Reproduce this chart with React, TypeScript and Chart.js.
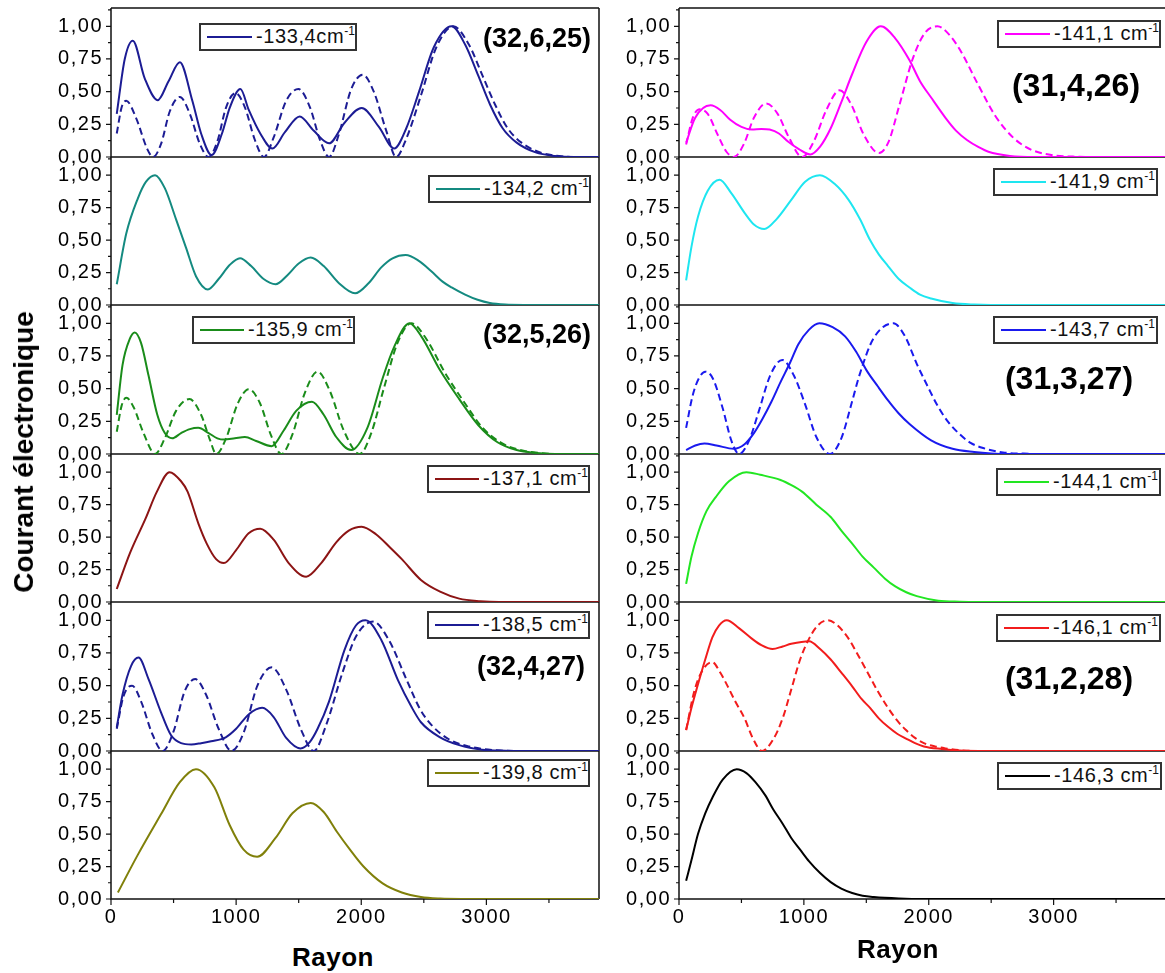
import React, { useEffect, useRef } from "react";
import { Chart, registerables } from "chart.js";
Chart.register(...registerables);

type Pt = [number, number];

// ---- axes ----
const xTicks = [0, 1000, 2000, 3000];
const xMinorTicks = [500, 1500, 2500, 3500];
const yTicks = [0, 0.25, 0.5, 0.75, 1];
const yMinorTicks = [0.125, 0.375, 0.625, 0.875, 1.125];
const X_MAX = 3900;
const Y_MAX = 1.14;

// ---- data (Rayon, courant normalisé) ----
const s1334: Pt[] = [[46,0.33],[110,0.75],[174,0.89],[270,0.6],[373,0.435],[460,0.58],[550,0.725],[650,0.43],[720,0.18],[804,0.015],[887,0.18],[950,0.38],[1034,0.52],[1101,0.36],[1193,0.18],[1290,0.065],[1390,0.19],[1508,0.31],[1621,0.2],[1743,0.105],[1865,0.26],[2003,0.375],[2141,0.23],[2263,0.065],[2360,0.22],[2462,0.5],[2580,0.84],[2722,1.0],[2830,0.86],[2936,0.62],[3030,0.4],[3130,0.22],[3242,0.11],[3394,0.035],[3547,0.008],[3700,0],[3900,0]];
const d1334: Pt[] = [[46,0.18],[85,0.38],[122,0.43],[200,0.3],[290,0.06],[336,0],[400,0.1],[470,0.35],[550,0.46],[630,0.33],[710,0.1],[780,0],[850,0.12],[920,0.38],[994,0.49],[1070,0.38],[1150,0.13],[1223,0],[1300,0.15],[1400,0.43],[1498,0.52],[1590,0.38],[1670,0.13],[1743,0],[1820,0.17],[1920,0.52],[2012,0.63],[2100,0.5],[2200,0.2],[2278,0],[2360,0.14],[2480,0.48],[2600,0.84],[2737,1.0],[2860,0.86],[2970,0.62],[3070,0.4],[3170,0.22],[3280,0.11],[3430,0.035],[3580,0.008],[3720,0],[3900,0]];
const s1342: Pt[] = [[46,0.16],[122,0.55],[214,0.82],[280,0.95],[352,1.0],[430,0.9],[520,0.66],[600,0.44],[680,0.22],[774,0.12],[860,0.2],[950,0.31],[1031,0.36],[1120,0.3],[1220,0.2],[1315,0.16],[1410,0.23],[1500,0.32],[1596,0.365],[1700,0.3],[1820,0.17],[1951,0.09],[2060,0.17],[2160,0.29],[2250,0.36],[2355,0.385],[2460,0.34],[2560,0.26],[2650,0.18],[2722,0.135],[2830,0.08],[2930,0.04],[3028,0.015],[3150,0.003],[3300,0],[3900,0]];
const s1359: Pt[] = [[46,0.3],[92,0.68],[150,0.88],[190,0.93],[240,0.85],[300,0.6],[370,0.3],[430,0.16],[489,0.12],[560,0.16],[630,0.19],[697,0.2],[780,0.16],[850,0.12],[902,0.11],[990,0.12],[1070,0.13],[1160,0.1],[1284,0.06],[1380,0.18],[1480,0.33],[1606,0.4],[1700,0.3],[1800,0.13],[1920,0.03],[2049,0.2],[2171,0.58],[2263,0.82],[2385,1.0],[2480,0.9],[2630,0.64],[2783,0.42],[2936,0.22],[3089,0.09],[3242,0.03],[3400,0.008],[3550,0],[3900,0]];
const d1359: Pt[] = [[46,0.17],[85,0.37],[122,0.43],[180,0.36],[260,0.16],[352,0],[430,0.12],[520,0.33],[627,0.42],[720,0.3],[790,0.11],[841,0],[920,0.12],[1010,0.38],[1101,0.495],[1190,0.39],[1280,0.14],[1361,0],[1450,0.15],[1550,0.47],[1651,0.63],[1750,0.48],[1860,0.18],[1988,0],[2080,0.16],[2180,0.5],[2290,0.85],[2401,1.0],[2520,0.88],[2670,0.62],[2820,0.4],[2970,0.2],[3120,0.085],[3270,0.03],[3420,0.008],[3580,0],[3900,0]];
const s1371: Pt[] = [[46,0.1],[153,0.38],[275,0.64],[367,0.85],[468,1.0],[560,0.93],[612,0.85],[700,0.6],[765,0.45],[840,0.33],[902,0.3],[1000,0.4],[1100,0.53],[1193,0.565],[1300,0.48],[1420,0.3],[1560,0.195],[1680,0.3],[1800,0.46],[1900,0.55],[2003,0.58],[2120,0.52],[2230,0.42],[2324,0.33],[2477,0.17],[2630,0.08],[2783,0.026],[2950,0.006],[3100,0],[3900,0]];
const s1385: Pt[] = [[46,0.18],[92,0.43],[160,0.65],[220,0.715],[300,0.55],[398,0.3],[480,0.12],[560,0.06],[642,0.05],[720,0.06],[800,0.075],[917,0.105],[1000,0.17],[1100,0.28],[1208,0.33],[1300,0.26],[1400,0.1],[1514,0.02],[1590,0.07],[1651,0.17],[1743,0.38],[1865,0.77],[1957,0.96],[2034,1.0],[2160,0.85],[2294,0.54],[2400,0.34],[2477,0.22],[2630,0.105],[2783,0.045],[2966,0.01],[3150,0.002],[3300,0],[3900,0]];
const d1385: Pt[] = [[46,0.17],[100,0.42],[168,0.5],[240,0.38],[330,0.13],[413,0],[500,0.15],[590,0.46],[673,0.55],[760,0.43],[860,0.17],[963,0],[1060,0.14],[1170,0.5],[1284,0.64],[1400,0.47],[1520,0.16],[1621,0],[1720,0.2],[1850,0.6],[1960,0.88],[2095,0.99],[2220,0.85],[2360,0.55],[2470,0.32],[2560,0.2],[2700,0.09],[2860,0.035],[3050,0.008],[3250,0],[3900,0]];
const s1398: Pt[] = [[55,0.05],[214,0.34],[398,0.65],[550,0.9],[679,1.0],[826,0.86],[948,0.57],[1060,0.38],[1168,0.325],[1315,0.47],[1450,0.66],[1596,0.74],[1700,0.67],[1804,0.52],[1910,0.38],[2018,0.25],[2171,0.12],[2324,0.05],[2477,0.015],[2630,0.003],[2800,0],[3900,0]];
const s1411: Pt[] = [[57,0.11],[130,0.3],[253,0.395],[330,0.36],[410,0.285],[500,0.23],[583,0.21],[660,0.215],[726,0.21],[800,0.18],[870,0.12],[960,0.06],[1051,0.02],[1130,0.08],[1215,0.22],[1300,0.42],[1387,0.635],[1500,0.88],[1616,1.0],[1730,0.91],[1846,0.74],[1930,0.58],[2019,0.455],[2134,0.3],[2220,0.2],[2306,0.13],[2400,0.075],[2478,0.04],[2650,0.008],[2850,0],[3900,0]];
const d1411: Pt[] = [[57,0.095],[110,0.3],[167,0.365],[230,0.33],[310,0.17],[380,0.04],[439,0],[520,0.1],[600,0.3],[698,0.41],[790,0.33],[880,0.15],[985,0],[1080,0.12],[1180,0.36],[1286,0.51],[1380,0.4],[1480,0.17],[1602,0.03],[1680,0.12],[1760,0.38],[1875,0.76],[1970,0.95],[2070,1.0],[2160,0.94],[2250,0.82],[2392,0.56],[2536,0.31],[2680,0.145],[2822,0.055],[3023,0.01],[3200,0.002],[3350,0],[3900,0]];
const s1419: Pt[] = [[57,0.19],[100,0.45],[152,0.68],[230,0.88],[324,0.965],[420,0.86],[525,0.71],[600,0.62],[683,0.585],[780,0.66],[899,0.81],[1010,0.95],[1128,1.0],[1250,0.93],[1358,0.81],[1450,0.66],[1530,0.5],[1600,0.39],[1674,0.3],[1760,0.2],[1846,0.135],[1930,0.08],[2019,0.05],[2191,0.015],[2364,0.003],[2500,0],[3900,0]];
const s1437: Pt[] = [[57,0.03],[130,0.065],[204,0.08],[300,0.065],[439,0.04],[525,0.075],[600,0.16],[669,0.27],[740,0.4],[813,0.55],[890,0.7],[956,0.84],[1040,0.95],[1123,1.0],[1230,0.97],[1330,0.9],[1420,0.78],[1502,0.64],[1590,0.52],[1674,0.41],[1760,0.31],[1846,0.23],[2019,0.105],[2191,0.04],[2364,0.015],[2500,0.004],[2650,0],[3900,0]];
const d1437: Pt[] = [[57,0.2],[110,0.45],[160,0.58],[210,0.63],[270,0.58],[350,0.35],[420,0.1],[482,0],[560,0.1],[640,0.33],[730,0.6],[827,0.72],[920,0.6],[1010,0.38],[1100,0.13],[1208,0],[1300,0.12],[1380,0.38],[1444,0.6],[1555,0.88],[1717,1.0],[1810,0.9],[1904,0.69],[1990,0.52],[2076,0.36],[2160,0.24],[2249,0.15],[2335,0.085],[2421,0.05],[2594,0.012],[2760,0.003],[2900,0],[3900,0]];
const s1441: Pt[] = [[57,0.14],[100,0.35],[152,0.53],[220,0.7],[296,0.81],[400,0.93],[540,1.0],[650,0.98],[813,0.94],[900,0.9],[985,0.85],[1100,0.75],[1215,0.655],[1300,0.55],[1387,0.45],[1470,0.35],[1560,0.265],[1650,0.18],[1732,0.12],[1820,0.075],[1904,0.045],[2076,0.01],[2250,0.002],[2400,0],[3900,0]];
const s1461: Pt[] = [[57,0.16],[100,0.33],[152,0.51],[210,0.7],[267,0.87],[320,0.96],[382,1.0],[480,0.94],[583,0.86],[660,0.81],[749,0.78],[830,0.8],[899,0.82],[1042,0.84],[1130,0.78],[1215,0.7],[1300,0.6],[1387,0.495],[1460,0.4],[1530,0.33],[1600,0.25],[1674,0.185],[1750,0.13],[1818,0.095],[1890,0.06],[1961,0.035],[2105,0.015],[2248,0.003],[2400,0],[3900,0]];
const d1461: Pt[] = [[57,0.16],[123,0.46],[190,0.62],[267,0.68],[330,0.6],[382,0.51],[450,0.38],[525,0.25],[590,0.1],[665,0],[755,0.09],[830,0.25],[899,0.47],[970,0.7],[1042,0.86],[1110,0.96],[1191,1.0],[1270,0.96],[1358,0.86],[1430,0.74],[1502,0.615],[1590,0.46],[1674,0.33],[1750,0.23],[1818,0.16],[1890,0.1],[1961,0.06],[2050,0.035],[2134,0.02],[2250,0.006],[2400,0],[3900,0]];
const s1463: Pt[] = [[57,0.14],[100,0.3],[152,0.5],[210,0.66],[267,0.78],[350,0.92],[462,1.0],[540,0.97],[612,0.9],[690,0.8],[755,0.69],[830,0.58],[899,0.47],[970,0.38],[1042,0.29],[1130,0.2],[1215,0.13],[1300,0.08],[1387,0.046],[1470,0.025],[1560,0.015],[1760,0.004],[1961,0],[3900,0]];

const legendLabels = ["-133,4cm", "-134,2 cm", "-135,9 cm", "-137,1 cm", "-138,5 cm", "-139,8 cm",
  "-141,1 cm", "-141,9 cm", "-143,7 cm", "-144,1 cm", "-146,1 cm", "-146,3 cm"];
const stateTags = ["(32,6,25)", "(32,5,26)", "(32,4,27)", "(31,4,26)", "(31,3,27)", "(31,2,28)"];
const yTitle = "Courant électronique";
const xTitle = "Rayon";

// ---- layout / styles ----
const FONT = '"Liberation Sans", Arial, Helvetica, sans-serif';
const ROW_TOP = [8, 157, 305, 454, 602, 751];
const ROW_BOTTOM = [157, 305, 454, 602, 751, 899];
const COLS = [
  { canvasLeft: 20, axisW: 91, canvasW: 581, padRight: 2 },
  { canvasLeft: 600, axisW: 79, canvasW: 566, padRight: 0 },
];
const PAD = 24;
const XAXIS_H = 30;

interface PanelDef {
  col: number; row: number; solid: Pt[]; dashed?: Pt[]; color: string;
  legend: string; lx: number; ly: number; lw: number;
}

const panels: PanelDef[] = [
  { col: 0, row: 0, solid: s1334, dashed: d1334, color: "#1c1c94", legend: legendLabels[0], lx: 199, ly: 23, lw: 158 },
  { col: 0, row: 1, solid: s1342, color: "#148a80", legend: legendLabels[1], lx: 428, ly: 175, lw: 163 },
  { col: 0, row: 2, solid: s1359, dashed: d1359, color: "#1a8c1a", legend: legendLabels[2], lx: 192, ly: 316, lw: 163 },
  { col: 0, row: 3, solid: s1371, color: "#8c1414", legend: legendLabels[3], lx: 427, ly: 465, lw: 163 },
  { col: 0, row: 4, solid: s1385, dashed: d1385, color: "#1c1c94", legend: legendLabels[4], lx: 427, ly: 611, lw: 163 },
  { col: 0, row: 5, solid: s1398, color: "#80800a", legend: legendLabels[5], lx: 427, ly: 759, lw: 163 },
  { col: 1, row: 0, solid: s1411, dashed: d1411, color: "#ff00ff", legend: legendLabels[6], lx: 997, ly: 20, lw: 164 },
  { col: 1, row: 1, solid: s1419, color: "#1ee6f0", legend: legendLabels[7], lx: 993, ly: 168, lw: 165 },
  { col: 1, row: 2, solid: s1437, dashed: d1437, color: "#1a1aee", legend: legendLabels[8], lx: 993, ly: 316, lw: 165 },
  { col: 1, row: 3, solid: s1441, color: "#22e622", legend: legendLabels[9], lx: 996, ly: 468, lw: 165 },
  { col: 1, row: 4, solid: s1461, dashed: d1461, color: "#f21c1c", legend: legendLabels[10], lx: 996, ly: 614, lw: 165 },
  { col: 1, row: 5, solid: s1463, color: "#000000", legend: legendLabels[11], lx: 997, ly: 762, lw: 165 },
];

const tagPos = [
  { x: 537, y: 38, size: 27 }, { x: 537, y: 334, size: 27 }, { x: 531, y: 666, size: 27 },
  { x: 1076, y: 85, size: 32 }, { x: 1069, y: 378, size: 32 }, { x: 1069, y: 678, size: 32 },
];

const framePlugin = {
  id: "frame",
  beforeDraw(chart: any) {
    chart.ctx.letterSpacing = "1.5px";
  },
  beforeDatasetsDraw(chart: any, _args: any, opts: any) {
    const { ctx, chartArea } = chart;
    const { left, right, top, bottom } = chartArea;
    const y = chart.scales.y;
    const x = chart.scales.x;
    ctx.save();
    ctx.strokeStyle = "#111";
    ctx.lineWidth = 1.5;
    ctx.beginPath();
    ctx.moveTo(left, top);
    ctx.lineTo(left, bottom);
    ctx.lineTo(right, bottom);
    if (opts.right) { ctx.moveTo(right, bottom); ctx.lineTo(right, top); }
    if (opts.top) { ctx.moveTo(left, top); ctx.lineTo(right, top); }
    ctx.stroke();
    ctx.lineWidth = 1.2;
    ctx.beginPath();
    yTicks.forEach((v) => { const py = y.getPixelForValue(v); ctx.moveTo(left - 5, py); ctx.lineTo(left, py); });
    yMinorTicks.forEach((v) => { const py = y.getPixelForValue(v); ctx.moveTo(left - 3, py); ctx.lineTo(left, py); });
    if (opts.xticks) {
      xTicks.forEach((v) => { const px = x.getPixelForValue(v); ctx.moveTo(px, bottom); ctx.lineTo(px, bottom + 6); });
      xMinorTicks.forEach((v) => { const px = x.getPixelForValue(v); ctx.moveTo(px, bottom); ctx.lineTo(px, bottom + 4); });
    }
    ctx.stroke();
    ctx.restore();
  },
};

function Panel({ p }: { p: PanelDef }) {
  const ref = useRef<HTMLCanvasElement>(null);
  const c = COLS[p.col];
  const isBottom = p.row === 5;
  const ph = ROW_BOTTOM[p.row] - ROW_TOP[p.row];
  const h = isBottom ? PAD + ph + XAXIS_H + 10 : PAD + ph + PAD;
  const top = ROW_TOP[p.row] - PAD;

  useEffect(() => {
    if (!ref.current) return;
    const datasets: any[] = [
      {
        data: p.solid.map(([x, y]) => ({ x, y })),
        borderColor: p.color, borderWidth: 2, pointRadius: 0,
        cubicInterpolationMode: "monotone", fill: false,
      },
    ];
    if (p.dashed) {
      datasets.push({
        data: p.dashed.map(([x, y]) => ({ x, y })),
        borderColor: p.color, borderWidth: 2, pointRadius: 0, borderDash: [7, 4],
        cubicInterpolationMode: "monotone", fill: false,
      });
    }
    const xScale: any = {
      type: "linear", min: 0, max: X_MAX, display: isBottom,
      afterBuildTicks: (s: any) => { s.ticks = xTicks.map((v) => ({ value: v })); },
      grid: { display: false, drawTicks: false },
      border: { display: false },
      ticks: {
        color: "#000", padding: 6, maxRotation: 0, autoSkip: false,
        font: { family: FONT, size: 20 },
        callback: (v: any) => String(v),
      },
    };
    if (isBottom) xScale.afterFit = (s: any) => { s.height = XAXIS_H; };
    const chart = new Chart(ref.current, {
      type: "line",
      data: { datasets },
      plugins: [framePlugin],
      options: {
        animation: false,
        responsive: false,
        devicePixelRatio: 1,
        layout: { padding: { left: 0, right: c.padRight, top: PAD, bottom: isBottom ? 10 : PAD } },
        plugins: {
          legend: { display: false },
          tooltip: { enabled: false },
          frame: { top: p.row === 0, right: p.col === 0, xticks: isBottom },
        } as any,
        scales: {
          x: xScale,
          y: {
            type: "linear", min: 0, max: Y_MAX,
            afterBuildTicks: (s: any) => { s.ticks = yTicks.map((v) => ({ value: v })); },
            afterFit: (s: any) => { s.width = c.axisW; },
            grid: { display: false, drawTicks: false },
            border: { display: false },
            ticks: {
              color: "#000", padding: 8,
              font: { family: FONT, size: 20 },
              callback: (v: any) => Number(v).toFixed(2).replace(".", ","),
            },
          },
        },
      } as any,
    });
    return () => chart.destroy();
  }, []);

  return (
    <canvas
      ref={ref}
      width={c.canvasW}
      height={h}
      style={{ position: "absolute", left: c.canvasLeft, top, width: c.canvasW, height: h }}
    />
  );
}

function LegendBox({ p }: { p: PanelDef }) {
  return (
    <div
      style={{
        position: "absolute", left: p.lx, top: p.ly, width: p.lw, height: 28,
        boxSizing: "border-box", border: "2px solid #333", background: "#fff",
        display: "flex", alignItems: "center", fontFamily: FONT, fontSize: 20,
        letterSpacing: "0.6px", color: "#111", whiteSpace: "nowrap", lineHeight: "20px",
      }}
    >
      <span style={{ display: "inline-block", width: 45, height: 2, background: p.color, marginLeft: 6, marginRight: 4 }} />
      <span>
        {p.legend}
        <span style={{ fontSize: 12, position: "relative", top: -8, letterSpacing: 0 }}>-1</span>
      </span>
    </div>
  );
}

export default function App() {
  return (
    <div style={{ position: "absolute", left: 0, top: 0, width: 1165, height: 973, overflow: "hidden", background: "#fff" }}>
      {panels.map((p, i) => <Panel key={i} p={p} />)}
      {panels.map((p, i) => <LegendBox key={"l" + i} p={p} />)}
      {stateTags.map((t, i) => (
        <div
          key={"t" + i}
          style={{
            position: "absolute", left: tagPos[i].x, top: tagPos[i].y, transform: "translate(-50%, -50%)",
            fontFamily: FONT, fontWeight: "bold", fontSize: tagPos[i].size,
            color: "#000", whiteSpace: "nowrap", lineHeight: 1,
          }}
        >
          {t}
        </div>
      ))}
      <div
        style={{
          position: "absolute", left: 24, top: 452, transform: "translate(-50%, -50%) rotate(-90deg)",
          fontFamily: FONT, fontWeight: "bold", fontSize: 28, color: "#000", whiteSpace: "nowrap", lineHeight: 1,
        }}
      >
        {yTitle}
      </div>
      <div
        style={{
          position: "absolute", left: 333, top: 957, transform: "translate(-50%, -50%)",
          fontFamily: FONT, fontWeight: "bold", fontSize: 26, letterSpacing: "0.5px", color: "#000", lineHeight: 1,
        }}
      >
        {xTitle}
      </div>
      <div
        style={{
          position: "absolute", left: 898, top: 949, transform: "translate(-50%, -50%)",
          fontFamily: FONT, fontWeight: "bold", fontSize: 26, letterSpacing: "0.5px", color: "#000", lineHeight: 1,
        }}
      >
        {xTitle}
      </div>
    </div>
  );
}
